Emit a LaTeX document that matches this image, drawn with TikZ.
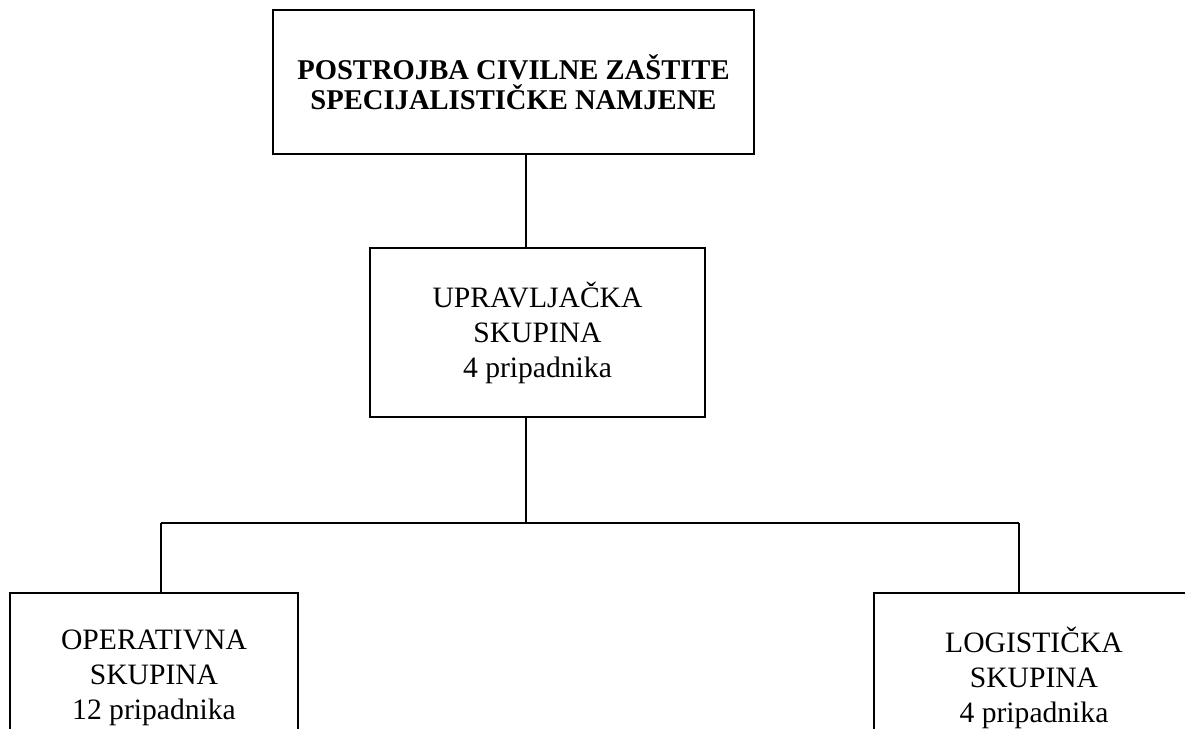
\documentclass[tikz,border=0pt]{standalone}
\usepackage{fontspec}
\setmainfont{Liberation Serif}
\usetikzlibrary{positioning}

\begin{document}
\begin{tikzpicture}[x=0.5pt,y=-0.5pt,
	box/.style={draw, line width=1.2pt, inner sep=0pt, align=center, minimum height=84.5pt, font=\fontsize{14.8}{17.5}\selectfont},
	link/.style={line width=1.1pt}]
	\useasboundingbox (0,0) rectangle (1185,729);
	\clip (0,0) rectangle (1185,729);
	
	\node [box, minimum width=240.5pt, minimum height=72pt, font=\bfseries\fontsize{14.3}{15}\selectfont] (pcz) at (513.5,82) {POSTROJBA CIVILNE ZAŠTITE\\SPECIJALISTIČKE NAMJENE};
	\node [box, minimum width=167.5pt] (upr) at (537.5,332.5) {UPRAVLJAČKA\\SKUPINA\\4 pripadnika};
	\node [box, minimum width=144pt] (ops) at (154,677.5) {OPERATIVNA\\SKUPINA\\12 pripadnika};
	\node [box, minimum width=160pt] (log) at (1034,677.5) {LOGISTIČKA\\SKUPINA\\4 pripadnika};
	
	\coordinate (fork) at (526,523);
	\coordinate (lft) at (161,523);
	\coordinate (rgt) at (1019,523);
	
	\draw [link] (pcz.south -| fork) -- (upr.north -| fork);
	\draw [link] (upr.south -| fork) -- (fork);
	\draw [link] (lft) -- (rgt);
	\foreach \c/\n in {lft/ops, rgt/log}
	{
		\draw [link] (\c) -- (\c |- \n.north);
	}
	
\end{tikzpicture}
\end{document}
